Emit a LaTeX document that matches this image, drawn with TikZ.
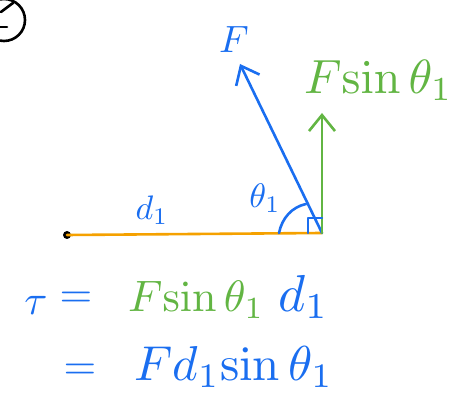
\documentclass[tikz,border=0pt]{standalone}
\usepackage{graphicx}
\usetikzlibrary{arrows.meta}
\definecolor{penblue}{HTML}{1A6EF0}
\definecolor{pengreen}{HTML}{62B543}
\definecolor{penorange}{HTML}{F5A100}
\newcommand{\smtxt}[1]{\scalebox{3.4}{#1}}
\newcommand{\bgtxt}[1]{\scalebox{4.2}{#1}}
\tikzset{
  stroke/.style={line width=2.6pt, line cap=round, line join=round},
  vec/.style={stroke, -{Straight Barb[length=16pt,width=26pt,line width=2.6pt]}},
  lbl/.style={inner sep=0pt}
}
\begin{document}
\begin{tikzpicture}[x=1pt,y=-1pt]
\useasboundingbox (0,0) rectangle (467,403);
% circled mark, cut off at the corner
\begin{scope}
\clip (0,0) rectangle (467,403);
\draw[stroke, black] (4,20) circle[radius=21];
\draw[stroke, black] (1,12) -- (13,3);
\draw[stroke, black] (0,27) -- (7,27);
\end{scope}
% lever arm
\coordinate (pivot) at (322,233);
\node[circle, fill=black, inner sep=0pt, minimum size=8pt] (dot) at (67,235) {};
\draw[stroke, penorange] (dot.center) -- (pivot);
% force vectors
\coordinate (ftip) at (240,64);
\coordinate (gtip) at (322,113);
\draw[vec, penblue] (pivot) -- (ftip);
\draw[vec, pengreen] (pivot) -- (gtip);
% right angle mark
\coordinate (ra1) at (308,233);
\coordinate (ra2) at (308,218);
\coordinate (ra3) at (322,218);
\draw[stroke, penblue, line width=2.2pt] (ra1) -- (ra2) -- (ra3);
% angle arc
\coordinate (arcA) at (279,233);
\coordinate (arcB) at (306,204);
\draw[stroke, penblue] (arcA) .. controls (282,218) and (292,207) .. (arcB);
% labels
\node[lbl, penblue] (Flbl) at (234,40) {\scalebox{3.8}{$F$}};
\node[lbl, pengreen, anchor=west] (Fsin) at (304,80) {\scalebox{4.8}{$F\mathrm{sin}\,\theta_1$}};
\node[lbl, penblue] (thlbl) at (265,198) {\smtxt{$\theta_1$}};
\node[lbl, penblue] (dlbl) at (152,210) {\smtxt{$d_1$}};
% equations
\node[lbl, penblue] (tau) at (36,305) {\bgtxt{$\tau$}};
\node[lbl, penblue] (eq1) at (76,300) {\bgtxt{$=$}};
\node[lbl, pengreen, anchor=west] (eqF) at (128,300) {\scalebox{4.4}{$F\mathrm{sin}\,\theta_1$}};
\node[lbl, penblue, anchor=west] (eqd) at (278,297) {\scalebox{5.2}{$d_1$}};
\node[lbl, penblue] (eq2) at (80,372) {\bgtxt{$=$}};
\node[lbl, penblue, anchor=west] (eq2r) at (134,367) {\scalebox{4.9}{$Fd_1\mathrm{sin}\,\theta_1$}};
\end{tikzpicture}
\end{document}
